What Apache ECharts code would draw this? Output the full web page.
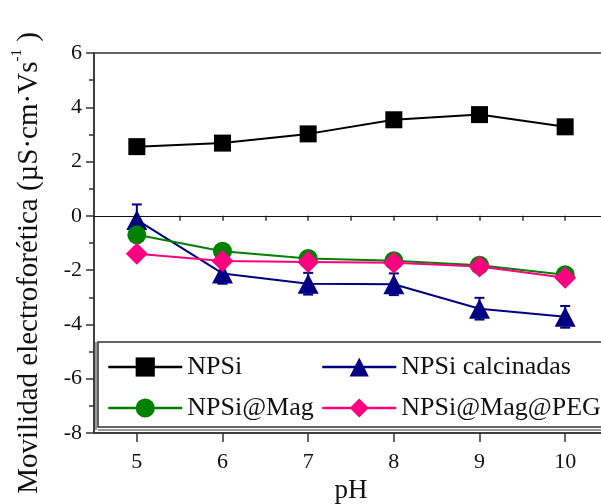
<!DOCTYPE html>
<html>
<head>
<meta charset="utf-8">
<script src="https://cdn.jsdelivr.net/npm/echarts@6/dist/echarts.min.js"></script>
<style>html,body{margin:0;padding:0;background:#fff}#c{width:601px;height:504px}</style>
</head>
<body>
<div id="c"></div>
<script>
var pH = [5, 6, 7, 8, 9, 10];
var npsi = [2.55, 2.68, 3.02, 3.54, 3.73, 3.28];
var calcinadas = [-0.15, -2.12, -2.50, -2.52, -3.42, -3.72];
var calcinadasErr = [0.57, 0.38, 0.40, 0.40, 0.40, 0.40];
var mag = [-0.70, -1.30, -1.57, -1.65, -1.82, -2.17];
var magPeg = [-1.40, -1.66, -1.70, -1.73, -1.87, -2.28];
var yTicks = [-8, -6, -4, -2, 0, 2, 4, 6];
var xTicks = [5, 6, 7, 8, 9, 10];

var FONT = 'Liberation Serif';
function pts(ys){ return pH.map(function(x,i){ return [x, ys[i]]; }); }

var chart = echarts.init(document.getElementById('c'), null, {renderer:'canvas'});
var errData = pH.map(function(x,i){ return [x, calcinadas[i], calcinadasErr[i]]; });

var legendCommon = {
  orient: 'vertical', top: 354, padding: 0,
  itemWidth: 74, itemHeight: 24, itemGap: 15,
  lineStyle: {width: 2.5},
  textStyle: {fontFamily: FONT, fontSize: 26, color: '#111'}
};

chart.setOption({
  animation: false,
  backgroundColor: '#fff',
  textStyle: {fontFamily: FONT},
  grid: {left: 94, top: 53, bottom: 71, right: -7, outerBoundsMode: 'none', containLabel: false,
         show: true, borderColor: '#333', borderWidth: 1.5, backgroundColor: 'transparent'},
  xAxis: [{
    type: 'value', min: 4.5, max: 10.5, interval: 0.5,
    name: 'pH', nameLocation: 'middle', nameGap: 44,
    nameTextStyle: {fontFamily: FONT, fontSize: 27, color: '#111'},
    axisLine: {show: true, onZero: false, lineStyle: {color: '#333', width: 1.5}},
    axisTick: {show: true, customValues: xTicks, length: 9, inside: false, lineStyle: {color: '#333', width: 1.5}},
    axisLabel: {customValues: xTicks, fontFamily: FONT, fontSize: 22, color: '#111', margin: 18},
    splitLine: {show: false}
  }, {
    type: 'value', min: 4.5, max: 10.5, interval: 0.5, position: 'bottom', gridIndex: 0,
    axisLine: {show: false}, axisLabel: {show: false}, splitLine: {show: false},
    axisTick: {show: true, length: 5, lineStyle: {color: '#333', width: 1.5}}
  }],
  yAxis: {
    type: 'value', min: -8, max: 6, interval: 2,
    name: '{a|Movilidad electroforética (µS·cm·Vs}{s|-1}{a| )}', nameLocation: 'middle', nameGap: 50,
    nameTextStyle: {fontFamily: FONT, fontSize: 29, color: '#111', padding: [0, 40, 0, 0],
      rich: {a: {fontFamily: FONT, fontSize: 29, color: '#111', lineHeight: 34, verticalAlign: 'bottom'},
             s: {fontFamily: FONT, fontSize: 15, color: '#111', lineHeight: 34, verticalAlign: 'top', padding: [0,0,16,0]}}},
    axisLine: {show: true, onZero: false, lineStyle: {color: '#333', width: 1.5}},
    axisTick: {show: true, length: 8, lineStyle: {color: '#333', width: 1.5}},
    minorTick: {show: true, splitNumber: 2, length: 5, lineStyle: {color: '#333', width: 1.5}},
    axisLabel: {fontFamily: FONT, fontSize: 22, color: '#111', margin: 12},
    splitLine: {show: false}
  },
  legend: [
    Object.assign({}, legendCommon, {data: ['NPSi', 'NPSi@Mag'], left: 107}),
    Object.assign({}, legendCommon, {data: ['NPSi calcinadas', 'NPSi@Mag@PEG'], left: 321})
  ],
  graphic: [
    {type: 'rect', shape: {x: 98, y: 342, width: 520, height: 85}, style: {fill: 'none', stroke: '#333', lineWidth: 1.5}, z: 1},
    {type: 'line', shape: {x1: 98, y1: 430, x2: 601, y2: 430}, style: {stroke: '#333', lineWidth: 1.2}, z: 1},
    {type: 'line', shape: {x1: 96, y1: 342, x2: 96, y2: 430}, style: {stroke: '#333', lineWidth: 1}, z: 1}
  ],
  series: [{
    name: 'NPSi', type: 'line', data: pts(npsi), symbol: 'rect', symbolSize: 17,
    itemStyle: {color: '#000'}, lineStyle: {color: '#000', width: 2}, z: 3,
    markLine: {silent: true, symbol: 'none', label: {show: false}, lineStyle: {color: '#111', width: 1, type: 'solid'},
      data: [{yAxis: 0}]}
  }, {
    type: 'custom', name: 'err', data: errData, z: 3, silent: true,
    renderItem: function(params, api){
      var x = api.value(0), y = api.value(1), e = api.value(2);
      var hi = api.coord([x, y + e]), lo = api.coord([x, y - e]);
      var w = 5;
      var st = {stroke: '#000080', lineWidth: 2};
      return {type: 'group', children: [
        {type: 'line', shape: {x1: hi[0], y1: hi[1], x2: lo[0], y2: lo[1]}, style: st},
        {type: 'line', shape: {x1: hi[0]-w, y1: hi[1], x2: hi[0]+w, y2: hi[1]}, style: st},
        {type: 'line', shape: {x1: lo[0]-w, y1: lo[1], x2: lo[0]+w, y2: lo[1]}, style: st}
      ]};
    }
  }, {
    name: 'NPSi calcinadas', type: 'line', data: pts(calcinadas), symbol: 'triangle', symbolSize: [21, 20],
    itemStyle: {color: '#000080'}, lineStyle: {color: '#000080', width: 2}, z: 4
  }, {
    name: 'NPSi@Mag', type: 'line', data: pts(mag), symbol: 'circle', symbolSize: 19,
    itemStyle: {color: '#008000'}, lineStyle: {color: '#008000', width: 2}, z: 5
  }, {
    name: 'NPSi@Mag@PEG', type: 'line', data: pts(magPeg), symbol: 'diamond', symbolSize: 22,
    itemStyle: {color: '#FF0080'}, lineStyle: {color: '#FF0080', width: 2}, z: 6
  }]
});
</script>
</body>
</html>
